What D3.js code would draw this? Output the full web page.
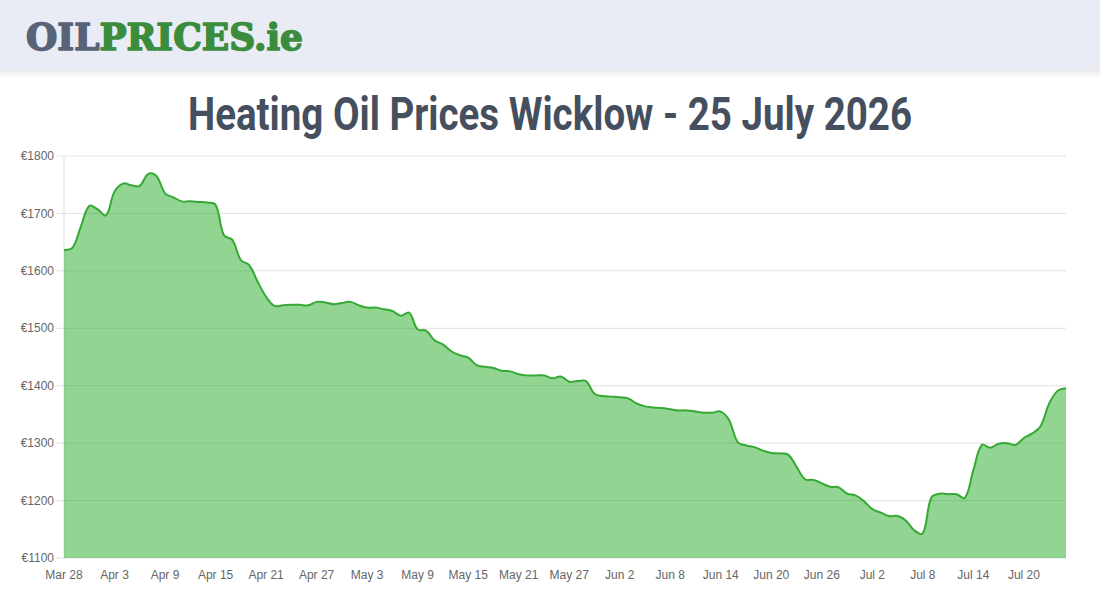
<!DOCTYPE html>
<html>
<head>
<meta charset="utf-8">
<script src="https://cdn.jsdelivr.net/npm/d3@7"></script>
<style>
  body { margin: 0; background: #fff; }
  svg { display: block; }
</style>
</head>
<body>
<script>
// daily heating oil prices, Wicklow, 28 Mar - 25 Jul 2026
const startDay = new Date(2026, 2, 28);
const endDay = new Date(2026, 6, 25);

const prices = [
  1636, 1640, 1677, 1713, 1707, 1697, 1738, 1752, 1749, 1748,
  1769, 1765, 1735, 1728, 1721, 1721, 1720, 1719, 1715, 1662,
  1654, 1619, 1610, 1581, 1555, 1539, 1540, 1541, 1541, 1540,
  1546, 1545, 1542, 1544, 1546, 1540, 1536, 1536, 1533, 1530,
  1522, 1527, 1498, 1496, 1479, 1472, 1460, 1453, 1449, 1436,
  1433, 1431, 1426, 1425, 1420, 1418, 1418, 1418, 1413, 1416,
  1407, 1408, 1408, 1386, 1382, 1381, 1380, 1378, 1369, 1364,
  1362, 1361, 1359, 1357, 1357, 1355, 1353, 1353, 1355, 1340,
  1302, 1296, 1293, 1287, 1283, 1282, 1280, 1259, 1237, 1236,
  1230, 1224, 1223, 1212, 1209, 1199, 1185, 1179, 1173, 1173,
  1165, 1148, 1143, 1205, 1212, 1211, 1211, 1205, 1253, 1297,
  1292, 1299, 1300, 1297, 1309, 1317, 1330, 1369, 1391, 1396
];

const xTickLabels = ["Mar 28", "Apr 3", "Apr 9", "Apr 15", "Apr 21", "Apr 27", "May 3",
  "May 9", "May 15", "May 21", "May 27", "Jun 2", "Jun 8", "Jun 14", "Jun 20",
  "Jun 26", "Jul 2", "Jul 8", "Jul 14", "Jul 20"];
const yTicks = [1100, 1200, 1300, 1400, 1500, 1600, 1700, 1800];

const days = d3.timeDay.range(startDay, d3.timeDay.offset(endDay, 1));
const data = days.map((d, i) => ({date: d, price: prices[i]}));

const W = 1100, H = 600;
const margin = {top: 156, right: 34, bottom: 42, left: 64};
const width = W - margin.left - margin.right;
const height = H - margin.top - margin.bottom;

const svg = d3.select("body").append("svg")
  .attr("width", W)
  .attr("height", H);

// header band
const defs = svg.append("defs");
const shadow = defs.append("linearGradient").attr("id", "shadow")
  .attr("x1", 0).attr("y1", 0).attr("x2", 0).attr("y2", 1);
shadow.append("stop").attr("offset", "0%").attr("stop-color", "#000").attr("stop-opacity", 0.08);
shadow.append("stop").attr("offset", "100%").attr("stop-color", "#000").attr("stop-opacity", 0);

svg.append("rect").attr("x", 0).attr("y", 70).attr("width", W).attr("height", 8)
  .attr("fill", "url(#shadow)");
svg.append("rect").attr("x", 0).attr("y", 0).attr("width", W).attr("height", 70)
  .attr("fill", "#e9ecf4");

const logo = svg.append("text")
  .attr("x", 26).attr("y", 50)
  .attr("textLength", 277).attr("lengthAdjust", "spacingAndGlyphs")
  .style("font-family", "'DejaVu Serif', serif")
  .style("font-weight", "bold")
  .style("font-size", "37px")
  .style("stroke-width", "1.6px")
  .style("stroke-linejoin", "round");
logo.append("tspan").attr("fill", "#596377").attr("stroke", "#596377").text("OIL");
logo.append("tspan").attr("fill", "#3b8c3d").attr("stroke", "#3b8c3d").text("PRICES.ie");

// title
svg.append("text")
  .attr("x", 550).attr("y", 130)
  .attr("text-anchor", "middle")
  .attr("textLength", 724).attr("lengthAdjust", "spacingAndGlyphs")
  .style("font-family", "'Liberation Sans Narrow', 'Roboto', sans-serif")
  .style("font-weight", "bold")
  .style("font-size", "47px")
  .style("fill", "#454f5e")
  .text("Heating Oil Prices Wicklow - 25 July 2026");

const g = svg.append("g")
  .attr("transform", "translate(" + margin.left + "," + margin.top + ")");

const x = d3.scaleTime().domain([startDay, endDay]).range([0, width]);
const y = d3.scaleLinear().domain([1100, 1800]).range([height, 0]);

// grid
g.selectAll(".grid").data(yTicks).enter().append("line")
  .attr("x1", -8).attr("x2", width)
  .attr("y1", d => y(d)).attr("y2", d => y(d))
  .attr("stroke", "#e1e1e1").attr("stroke-width", 1);

g.append("line").attr("x1", 0).attr("x2", 0).attr("y1", 0).attr("y2", height)
  .attr("stroke", "#e1e1e1");

// spline like chart.js (tension 0.4, distance weighted)
function splinePath(pts, closeToBase) {
  const t = 0.4;
  const cps = pts.map((p, i) => {
    const prev = pts[i - 1] || p, next = pts[i + 1] || p;
    const d01 = Math.hypot(p[0] - prev[0], p[1] - prev[1]);
    const d12 = Math.hypot(next[0] - p[0], next[1] - p[1]);
    let s01 = d01 / (d01 + d12), s12 = d12 / (d01 + d12);
    if (isNaN(s01)) s01 = 0;
    if (isNaN(s12)) s12 = 0;
    const fa = t * s01, fb = t * s12;
    const clampY = v => Math.max(0, Math.min(height, v));
    return {
      inX: p[0] - fa * (next[0] - prev[0]), inY: clampY(p[1] - fa * (next[1] - prev[1])),
      outX: p[0] + fb * (next[0] - prev[0]), outY: clampY(p[1] + fb * (next[1] - prev[1]))
    };
  });
  const path = d3.path();
  path.moveTo(pts[0][0], pts[0][1]);
  for (let i = 1; i < pts.length; i++) {
    path.bezierCurveTo(cps[i - 1].outX, cps[i - 1].outY, cps[i].inX, cps[i].inY, pts[i][0], pts[i][1]);
  }
  if (closeToBase) {
    path.lineTo(pts[pts.length - 1][0], height);
    path.lineTo(pts[0][0], height);
    path.closePath();
  }
  return path.toString();
}

const pts = data.map(d => [x(d.date), y(d.price)]);

// area + line
g.append("path")
  .attr("fill", "rgba(37,171,37,0.5)")
  .attr("d", splinePath(pts, true));

g.append("path")
  .attr("fill", "none")
  .attr("stroke", "#34a934")
  .attr("stroke-width", 2)
  .attr("d", splinePath(pts, false));

// y labels
g.selectAll(".ylab").data(yTicks).enter().append("text")
  .attr("x", -10).attr("y", d => y(d))
  .attr("dy", "0.35em")
  .attr("text-anchor", "end")
  .style("font-family", "'Liberation Sans', Arial, sans-serif")
  .style("font-size", "12px")
  .style("fill", "#666")
  .text(d => "€" + d);

// x labels, every 6th day
g.selectAll(".xlab").data(xTickLabels).enter().append("text")
  .attr("x", (d, i) => x(days[i * 6]))
  .attr("y", height + 21)
  .attr("text-anchor", "middle")
  .style("font-family", "'Liberation Sans', Arial, sans-serif")
  .style("font-size", "12px")
  .style("fill", "#666")
  .text(d => d);
</script>
</body>
</html>
